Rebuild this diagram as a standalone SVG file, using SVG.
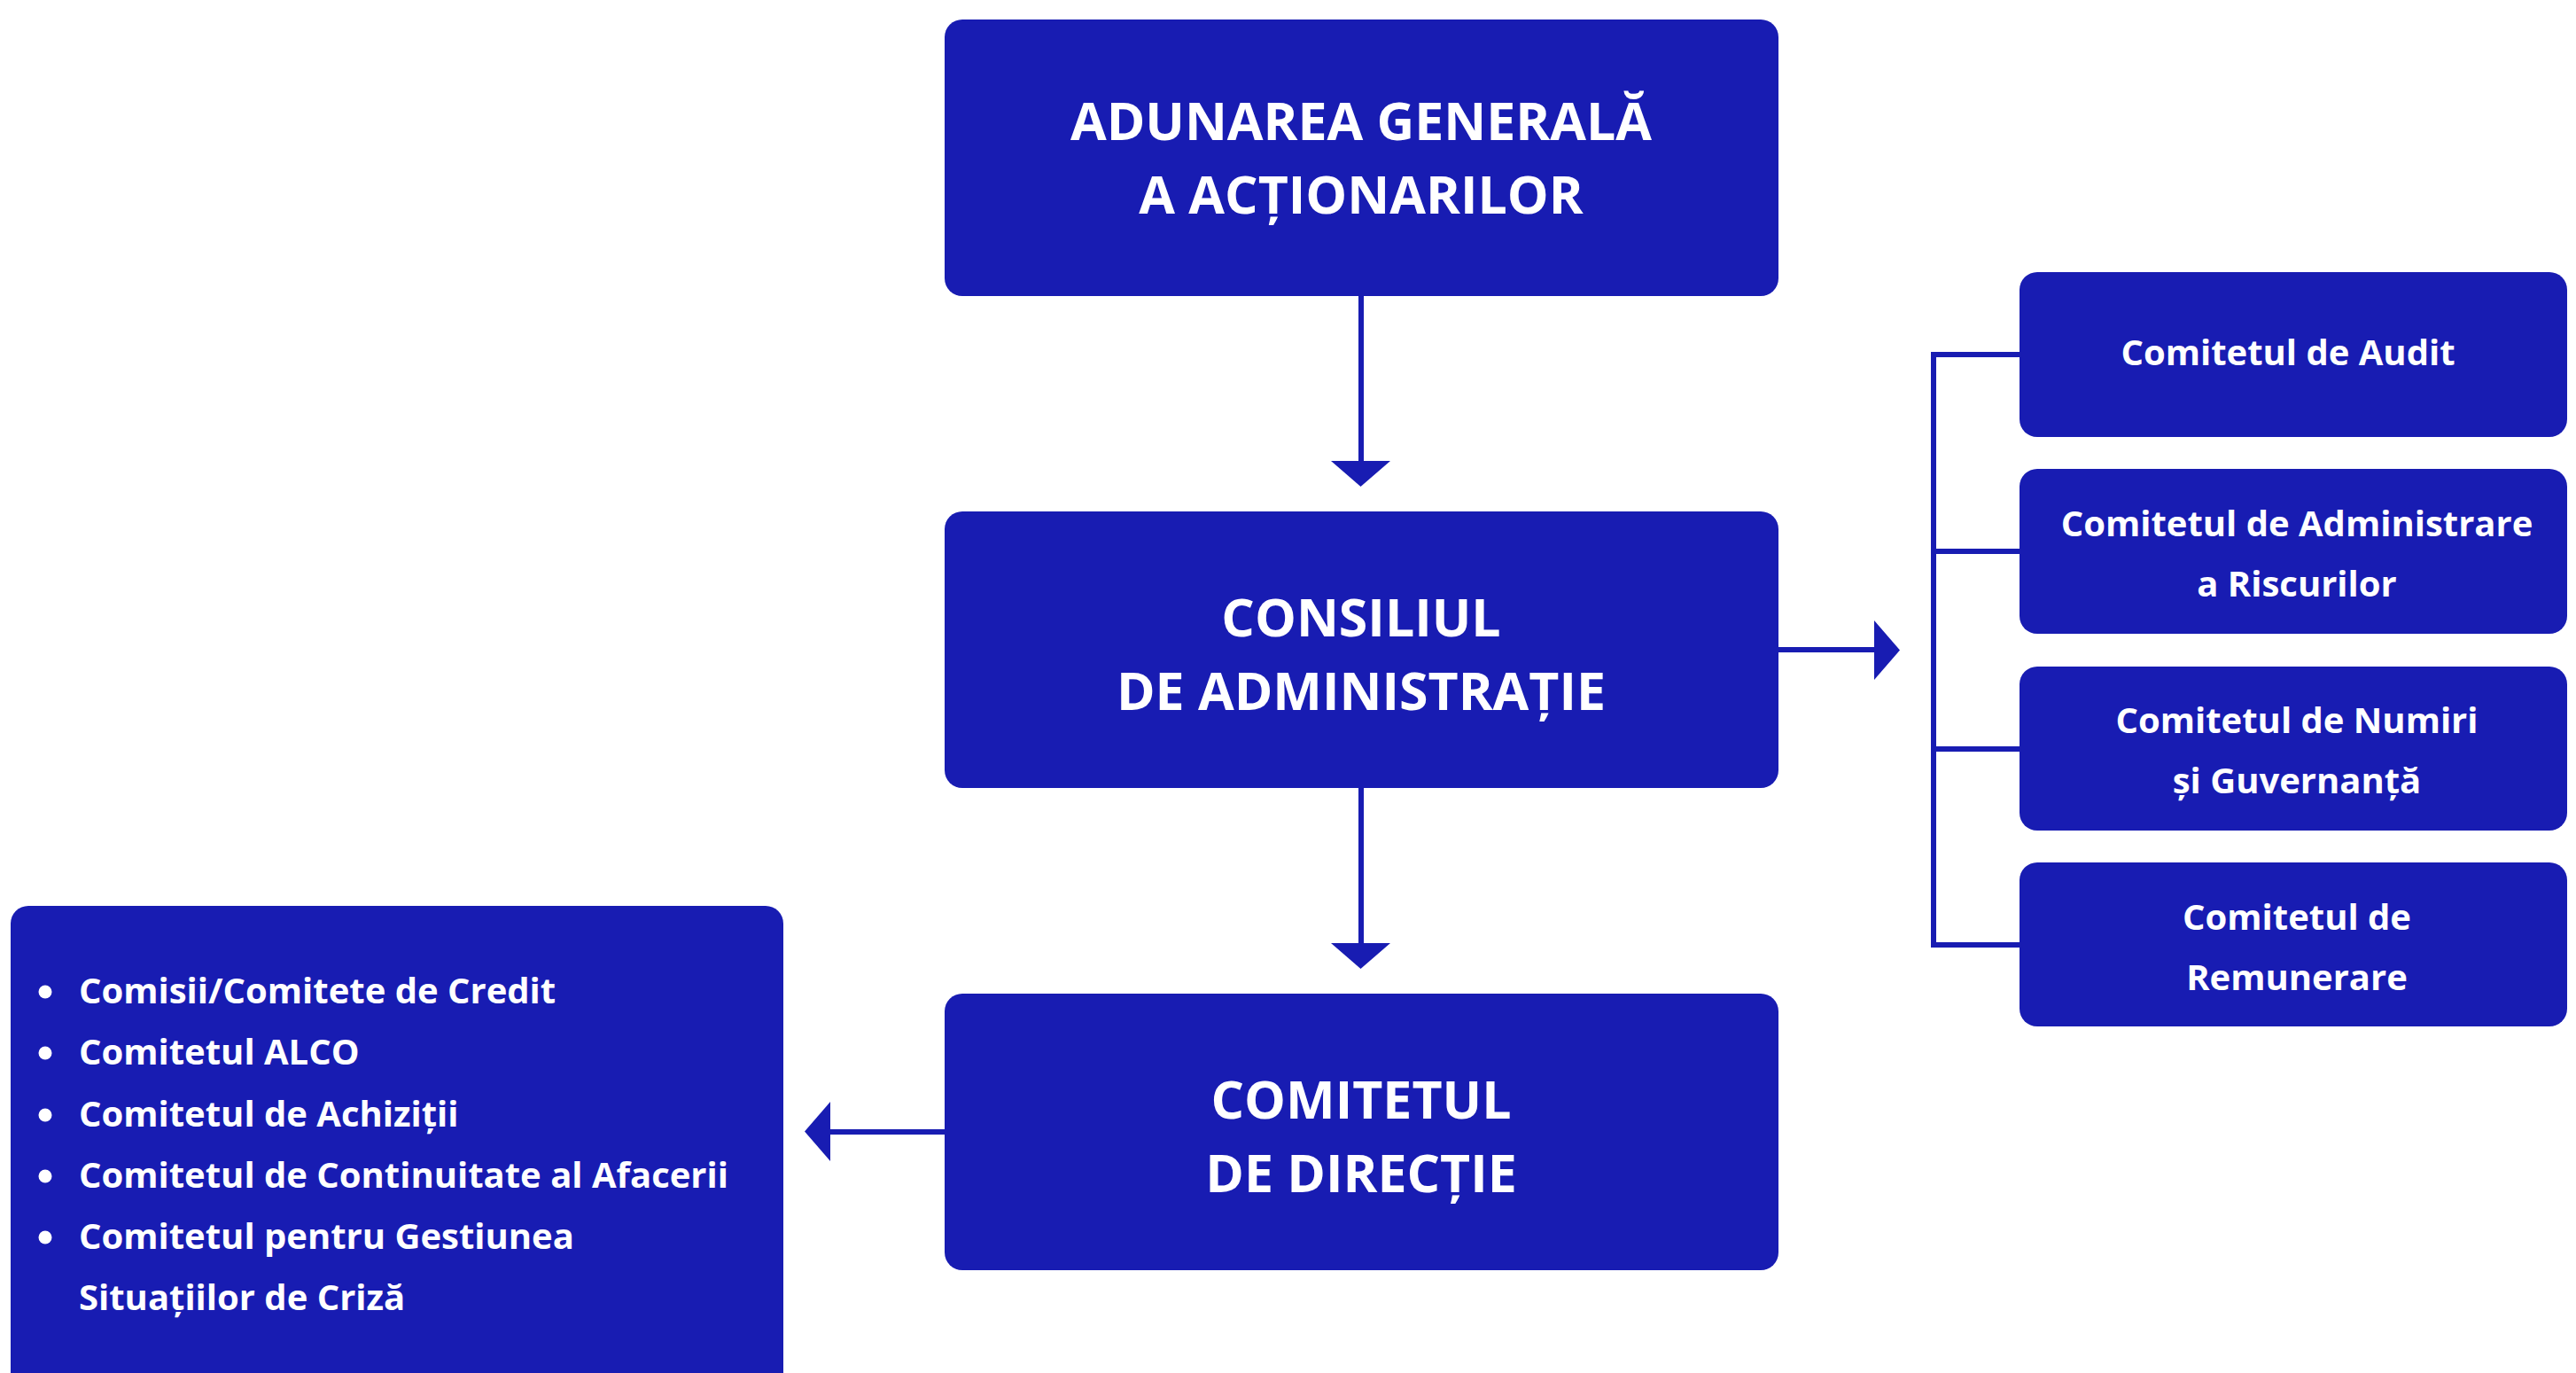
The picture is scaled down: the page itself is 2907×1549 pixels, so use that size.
<svg xmlns="http://www.w3.org/2000/svg" width="2907" height="1549" viewBox="0 0 2907 1549">
<style>
.box{fill:#181cb2}
.t{font-family:"Open Sans","Noto Sans","Liberation Sans",sans-serif;font-weight:700;fill:#ffffff}
.big{font-size:59px;text-anchor:middle}
.mid{font-size:40px;text-anchor:middle}
.li{font-size:40px}
.ln{stroke:#181cb2;stroke-width:6;fill:none}
.ah{fill:#181cb2}
</style>
<rect x="0" y="0" width="2907" height="1549" fill="#ffffff"/>
<g id="connectors">
<line class="ln" x1="1536" y1="334" x2="1536" y2="522"/>
<polygon class="ah" points="1502,520 1569,520 1535.5,549"/>
<line class="ln" x1="1536" y1="889" x2="1536" y2="1066"/>
<polygon class="ah" points="1502,1064 1569,1064 1535.5,1093"/>
<line class="ln" x1="2007" y1="733" x2="2117" y2="733"/>
<polygon class="ah" points="2115,700 2115,767 2144,733.5"/>
<line class="ln" x1="1066" y1="1277" x2="935" y2="1277"/>
<polygon class="ah" points="937,1243 937,1310 908,1276.5"/>
<path class="ln" d="M2279,400 H2182 V1066 H2279 M2182,622 H2279 M2182,845 H2279" stroke-linejoin="miter"/>
</g>
<g id="adunarea">
<rect class="box" x="1066" y="22" width="941" height="312" rx="20"/>
<text class="t big" x="1536" y="158">ADUNAREA GENERALĂ</text>
<text class="t big" x="1536" y="241">A ACȚIONARILOR</text>
</g>
<g id="consiliul">
<rect class="box" x="1066" y="577" width="941" height="312" rx="20"/>
<text class="t big" x="1536" y="718">CONSILIUL</text>
<text class="t big" x="1536" y="801">DE ADMINISTRAȚIE</text>
</g>
<g id="comitetul-directie">
<rect class="box" x="1066" y="1121" width="941" height="312" rx="20"/>
<text class="t big" x="1536" y="1262">COMITETUL</text>
<text class="t big" x="1536" y="1345">DE DIRECȚIE</text>
</g>
<g id="audit">
<rect class="box" x="2279" y="307" width="618" height="186" rx="20"/>
<text class="t mid" x="2582" y="412">Comitetul de Audit</text>
</g>
<g id="riscuri">
<rect class="box" x="2279" y="529" width="618" height="186" rx="20"/>
<text class="t mid" x="2592" y="605">Comitetul de Administrare</text>
<text class="t mid" x="2592" y="673">a Riscurilor</text>
</g>
<g id="numiri">
<rect class="box" x="2279" y="752" width="618" height="185" rx="20"/>
<text class="t mid" x="2592" y="827">Comitetul de Numiri</text>
<text class="t mid" x="2592" y="895">și Guvernanță</text>
</g>
<g id="remunerare">
<rect class="box" x="2279" y="973" width="618" height="185" rx="20"/>
<text class="t mid" x="2592" y="1049">Comitetul de</text>
<text class="t mid" x="2592" y="1117">Remunerare</text>
</g>
<g id="comitete-lista">
<rect class="box" x="12" y="1022" width="872" height="560" rx="20"/>
<circle fill="#ffffff" cx="51" cy="1119" r="7.5"/>
<circle fill="#ffffff" cx="51" cy="1188" r="7.5"/>
<circle fill="#ffffff" cx="51" cy="1258" r="7.5"/>
<circle fill="#ffffff" cx="51" cy="1327" r="7.5"/>
<circle fill="#ffffff" cx="51" cy="1396" r="7.5"/>
<text class="t li" x="89" y="1132">Comisii/Comitete de Credit</text>
<text class="t li" x="89" y="1201">Comitetul ALCO</text>
<text class="t li" x="89" y="1271">Comitetul de Achiziții</text>
<text class="t li" x="89" y="1340">Comitetul de Continuitate al Afacerii</text>
<text class="t li" x="89" y="1409">Comitetul pentru Gestiunea</text>
<text class="t li" x="89" y="1478">Situațiilor de Criză</text>
</g>
</svg>
